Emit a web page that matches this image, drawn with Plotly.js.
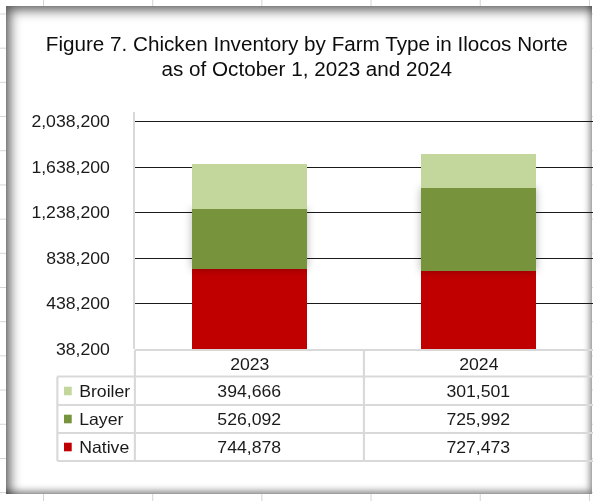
<!DOCTYPE html>
<html>
<head>
<meta charset="utf-8">
<script src="https://cdn.plot.ly/plotly-3.0.1.min.js"></script>
<style>
  html, body { margin: 0; padding: 0; width: 593px; height: 501px; overflow: hidden; }
  body {
    background-color: #ffffff;
    background-image: linear-gradient(to right, #d4d4d4 1px, transparent 1px),
                      linear-gradient(to bottom, #d4d4d4 1px, transparent 1px);
    background-size: 109.2px 34.2px;
    background-position: 43px 13.5px;
    position: relative;
  }
  #frame {
    position: absolute; left: 6px; top: 6px; width: 586px; height: 488px;
    background: #ffffff;
    box-shadow: inset 6px 6px 12px -2px rgba(0,0,0,0.65), inset -4px -5px 7px -2px rgba(0,0,0,0.45);
  }
  #wrap {
    position: absolute; left: 0; top: 0; width: 554px; height: 501px;
    transform: scaleX(1.0704); transform-origin: 0 0;
  }
  #chart { width: 554px; height: 501px; }
</style>
</head>
<body>
<div id="frame"></div>
<div id="wrap"><div id="chart"></div></div>
<script>
// ---- data ----
const years = ['2023', '2024'];
const rowNames = ['Broiler', 'Layer', 'Native'];
const broiler = [394666, 301501];
const layer = [526092, 725992];
const native = [744878, 727473];
const tickVals = [38200, 438200, 838200, 1238200, 1638200, 2038200];

// ---- styles ----
const colorBroiler = '#C3D69B';
const colorLayer = '#77933C';
const colorNative = '#C00000';
const FONT = 'Liberation Sans, Arial, Helvetica, sans-serif';
const TXT = '#1a1a1a';
const BORDER = '#D9D9D9';

const traces = [
  { type: 'bar', name: 'Native', x: years, y: native, marker: { color: colorNative, line: { width: 0 } } },
  { type: 'bar', name: 'Layer', x: years, y: layer, marker: { color: colorLayer, line: { width: 0 } } },
  { type: 'bar', name: 'Broiler', x: years, y: broiler, marker: { color: colorBroiler, line: { width: 0 } } }
];

// table geometry in plot-paper units (plot area: 428 x 237 px)
const P = { top: 112, bottom: 349, left: 126, width: 428, height: 237 };
const py = v => (P.bottom - v) / P.height;
const px = v => (v - P.left) / P.width;

const rowData = { Broiler: broiler, Layer: layer, Native: native };
const rowColors = { Broiler: colorBroiler, Layer: colorLayer, Native: colorNative };
const rowCenters = [391, 419, 447];
const rowLines = [376.5, 405, 433, 461];
const tableLeft = px(53.6);

const shapes = [];
const lineStyle = { color: BORDER, width: 2 };
shapes.push({ type: 'line', xref: 'paper', yref: 'paper', x0: 0, x1: 1, y0: py(350), y1: py(350), line: lineStyle, layer: 'above' });
rowLines.forEach(v => shapes.push({ type: 'line', xref: 'paper', yref: 'paper', x0: tableLeft, x1: 1, y0: py(v), y1: py(v), line: lineStyle, layer: 'above' }));
shapes.push({ type: 'line', xref: 'paper', yref: 'paper', x0: tableLeft, x1: tableLeft, y0: py(376.5), y1: py(461), line: lineStyle });
shapes.push({ type: 'line', xref: 'paper', yref: 'paper', x0: 0, x1: 0, y0: py(350), y1: py(461), line: lineStyle });
shapes.push({ type: 'line', xref: 'paper', yref: 'paper', x0: 0.5, x1: 0.5, y0: py(350), y1: py(461), line: lineStyle });

const annotations = [];
years.forEach((yr, j) => annotations.push({
  xref: 'x', yref: 'paper', x: j, y: py(364), text: yr, showarrow: false,
  xanchor: 'center', yanchor: 'middle', font: { family: FONT, size: 16.5, color: TXT }
}));
rowNames.forEach((name, i) => {
  const c = rowCenters[i];
  shapes.push({ type: 'rect', xref: 'paper', yref: 'paper', x0: px(59.8), x1: px(67.0), y0: py(c - 4.3), y1: py(c + 4.3),
    fillcolor: rowColors[name], line: { width: 0 } });
  annotations.push({ xref: 'paper', yref: 'paper', x: px(71.7), y: py(c), text: name, showarrow: false,
    xanchor: 'left', yanchor: 'middle', font: { family: FONT, size: 16.5, color: TXT } });
  years.forEach((yr, j) => annotations.push({
    xref: 'x', yref: 'paper', x: j, y: py(c), text: rowData[name][j].toLocaleString('en-US'), showarrow: false,
    xanchor: 'center', yanchor: 'middle', font: { family: FONT, size: 16.5, color: TXT }
  }));
});

const layout = {
  width: 554, height: 501,
  margin: { l: P.left, r: 0, t: P.top, b: 501 - P.bottom, pad: 0 },
  paper_bgcolor: 'rgba(0,0,0,0)', plot_bgcolor: 'rgba(0,0,0,0)',
  barmode: 'stack', bargap: 0.5, showlegend: false,
  font: { family: FONT, color: TXT },
  title: {
    text: 'Figure 7. Chicken Inventory by Farm Type in Ilocos Norte<br>as of October 1, 2023 and 2024',
    xref: 'container', yref: 'container', x: 0.5173, xanchor: 'center', y: 0.898, yanchor: 'top',
    font: { family: FONT, size: 19.3, color: '#0d0d0d' }
  },
  xaxis: { type: 'category', range: [-0.5, 1.5], showticklabels: false, showgrid: false, zeroline: false, showline: false, ticks: '', fixedrange: true },
  yaxis: {
    range: [38200, 2123550], tickvals: tickVals, tickformat: ',', showgrid: true, gridcolor: '#1a1a1a', gridwidth: 1,
    zeroline: false, showline: true, linecolor: BORDER, linewidth: 2, ticks: 'outside', ticklen: 18, tickcolor: 'rgba(0,0,0,0)',
    tickfont: { family: FONT, size: 16.5, color: TXT }, fixedrange: true
  },
  shapes: shapes,
  annotations: annotations
};

Plotly.newPlot('chart', traces, layout, { staticPlot: true, displayModeBar: false }).then(gd => {
  // soft shadow around the Layer segments, as in the original Excel chart
  const groups = gd.querySelectorAll('.barlayer .trace.bars');
  if (groups[1]) groups[1].style.filter = 'drop-shadow(0px 0px 4px rgba(0,0,0,0.3))';
});
</script>
</body>
</html>
